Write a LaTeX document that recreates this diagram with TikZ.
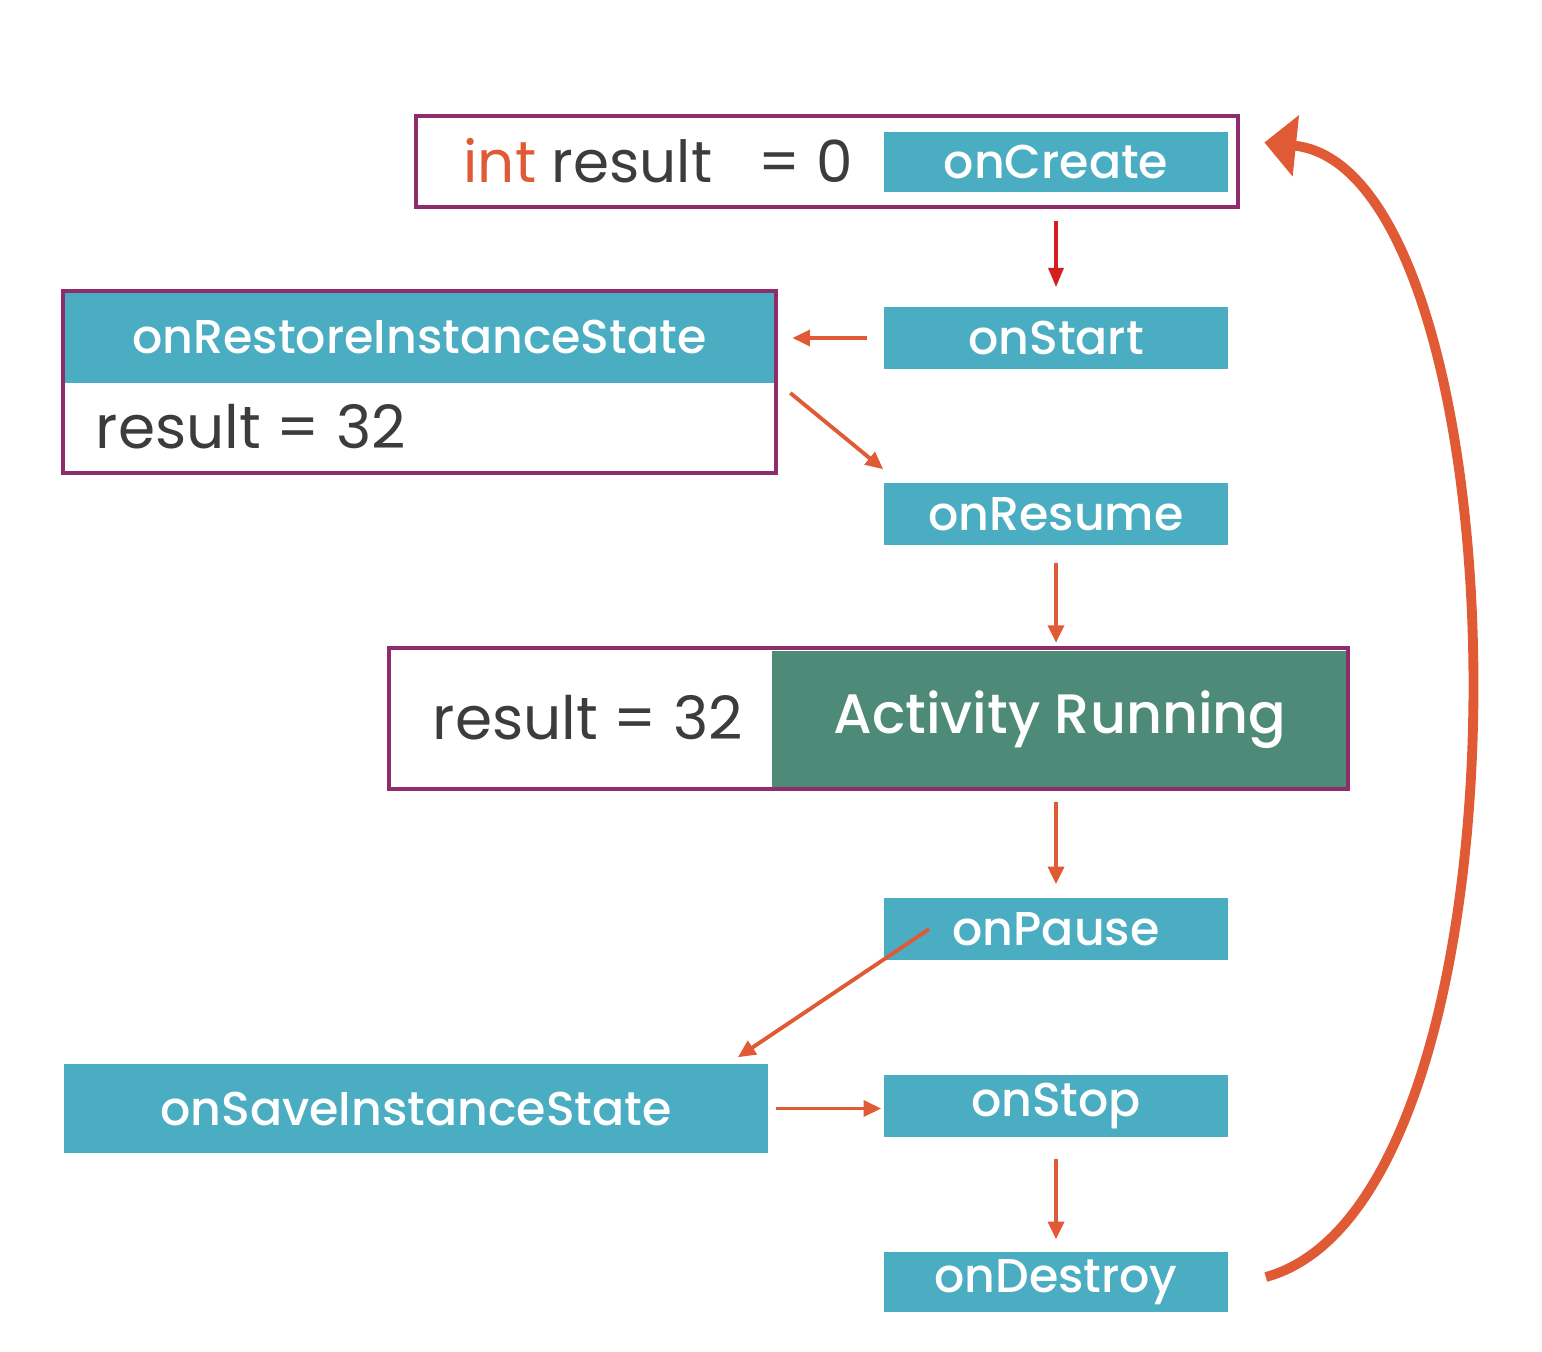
\documentclass[tikz,border=0pt]{standalone}
\usepackage{fontspec}
\setmainfont{Poppins}
\newfontfamily\medfont{Poppins Medium}
\usetikzlibrary{arrows.meta}
\definecolor{cyanbox}{HTML}{4BADC2}
\definecolor{frameclr}{HTML}{8E2D6B}
\definecolor{greenbox}{HTML}{4D8A78}
\definecolor{arrorange}{HTML}{E05B35}
\definecolor{arrred}{HTML}{D41F1F}
\definecolor{textgray}{HTML}{3C3C3C}
\begin{document}
\begin{tikzpicture}[x=0.01cm,y=-0.01cm,
  cbox/.style={fill=cyanbox, text=white, font=\medfont\fontsize{13.5}{16}\selectfont,
    minimum width=3.44cm, minimum height=0.62cm, inner sep=0pt, anchor=center},
  frameline/.style={draw=frameclr, line width=1.2pt, inner sep=0pt, anchor=center},
  codetext/.style={text=textgray, font=\fontsize{17}{20}\selectfont, inner sep=0pt, anchor=base west},
  flow/.style={draw=arrorange, line width=1.1pt, -{Triangle[length=5pt,width=4.5pt]}},
  redflow/.style={draw=arrred, line width=1.1pt, -{Triangle[length=5.5pt,width=4.2pt]}},
  bigflow/.style={draw=arrorange, line width=2.8pt, -{Triangle[length=9pt,width=17pt]}},
]
\useasboundingbox (0,0) rectangle (1542,1352);

% onCreate frame
\node[frameline, fill=white, minimum width=8.22cm, minimum height=0.91cm] (createFrame) at (827,161.5) {};
\node[cbox, minimum height=0.60cm] (onCreate) at (1056,162) {onCreate};
\node[codetext, font=\fontsize{16.5}{19}\selectfont] (initText) at (463,183) {\textcolor{arrorange}{int} result\ \ \ = 0};

\node[cbox] (onStart) at (1056,338) {onStart};
\node[cbox] (onResume) at (1056,514) {onResume};
\node[cbox] (onPause) at (1056,929) {onPause};
\node[cbox] (onStop) at (1056,1106) {onStop};
\node[cbox, minimum height=0.60cm] (onDestroy) at (1056,1282) {onDestroy};

% onRestoreInstanceState
\node[cbox, minimum width=7.13cm, minimum height=0.92cm] (restoreHead) at (419.5,337) {onRestoreInstanceState};
\node[frameline, minimum width=7.13cm, minimum height=1.82cm] (restoreFrame) at (419.5,382) {};
\node[codetext] (restoreText) at (95,449) {result = 32};

% Activity running
\node[frameline, fill=white, minimum width=9.59cm, minimum height=1.41cm] (runFrame) at (868.5,718.5) {};
\node[fill=greenbox, text=white, font=\medfont\fontsize{15.8}{19}\selectfont, inner sep=0pt,
  minimum width=5.76cm, minimum height=1.37cm] (running) at (1060,720) {Activity Running};
\node[frameline, minimum width=9.59cm, minimum height=1.41cm] (runFrameTop) at (868.5,718.5) {};
\node[codetext] (runText) at (432,739) {result = 32};

% onSaveInstanceState
\node[cbox, minimum width=7.04cm, minimum height=0.89cm] (save) at (416,1108.5) {onSaveInstanceState};

% connectors
\draw[redflow, shorten <=0.28cm, shorten >=0.19cm] (onCreate.south) -- (onStart.north);
\draw[flow, shorten <=0.16cm, shorten >=0.14cm] (onStart.west) -- (onStart.west -| restoreFrame.east);
\draw[flow] ([xshift=0.12cm,yshift=-0.11cm]restoreFrame.east) -- ([yshift=0.13cm]onResume.north west);
\draw[flow, shorten <=0.17cm, shorten >=0.03cm] (onResume.south) -- (onResume.south |- runFrame.north);
\draw[flow, shorten <=0.11cm, shorten >=0.13cm] (onPause.north |- runFrame.south) -- (onPause.north);
\draw[flow] ([xshift=0.46cm]onPause.west) -- ([xshift=-0.31cm,yshift=0.06cm]save.north east);
\draw[flow, shorten <=0.07cm, shorten >=0.02cm] (save.east) -- (save.east -| onStop.west);
\draw[flow, shorten <=0.21cm, shorten >=0.12cm] (onStop.south) -- (onDestroy.north);
\draw[bigflow] ([xshift=0.37cm,yshift=0.05cm]onDestroy.east) .. controls (1548,1200) and (1528,170) .. ([xshift=0.24cm,yshift=0.19cm]createFrame.east);
\end{tikzpicture}
\end{document}
